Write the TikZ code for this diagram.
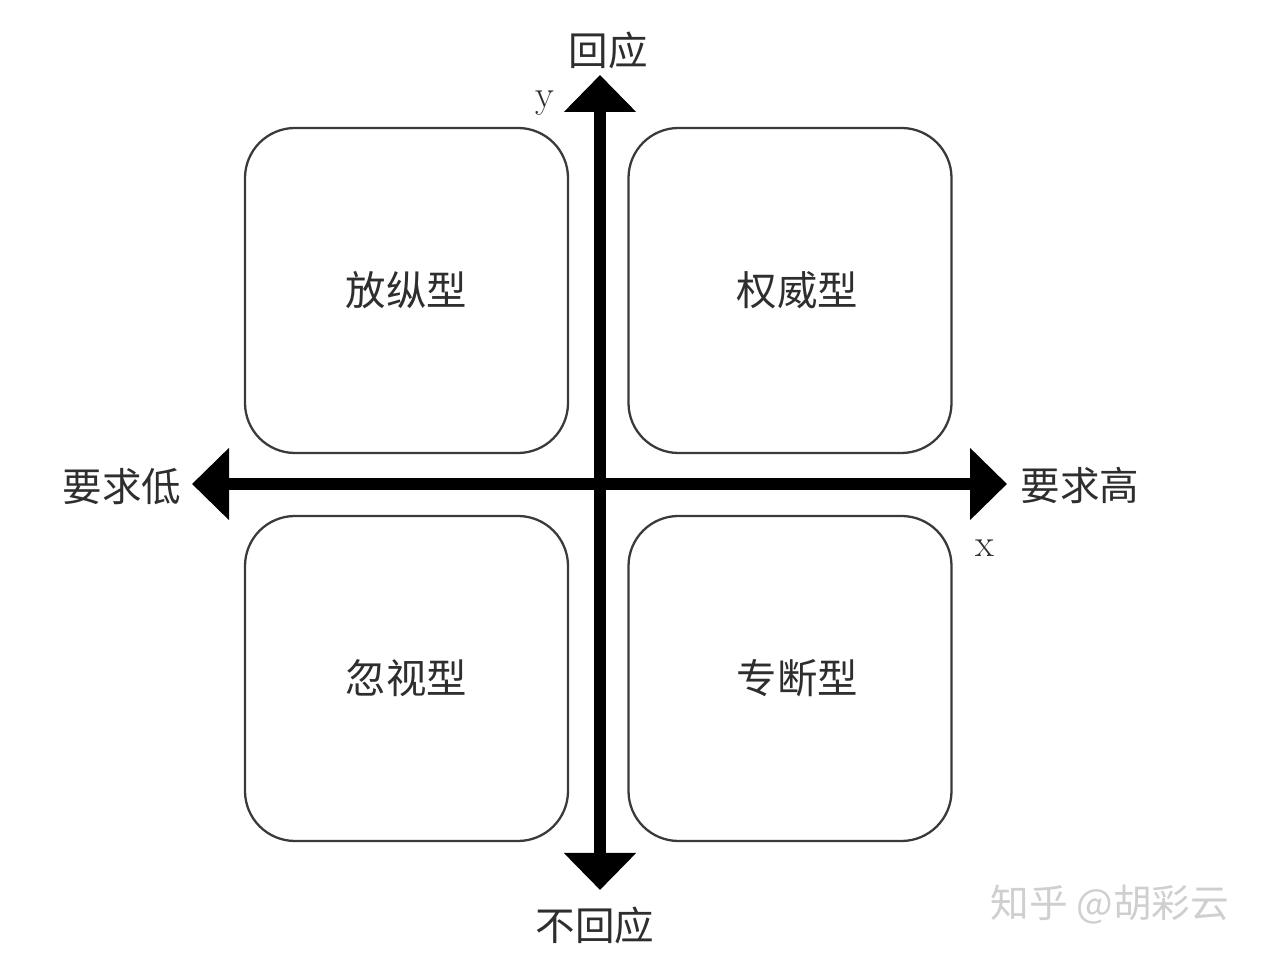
\documentclass[tikz,border=0pt]{standalone}
\usepackage{fontspec}
\newfontfamily\cjk{Noto Sans CJK SC}
\usetikzlibrary{arrows.meta,positioning}

\definecolor{txtgray}{HTML}{2E2E2E}
\definecolor{boxgray}{HTML}{3A3A3A}
\definecolor{markgray}{HTML}{CFCFCF}

\begin{document}
\begin{tikzpicture}[
    quadbox/.style={draw=boxgray, line width=1.3pt, rounded corners=1cm,
        minimum width=6.46cm, minimum height=6.5cm,
        font=\cjk\fontsize{23}{23}\selectfont, text=txtgray},
    axislabel/.style={font=\cjk\fontsize{22.5}{22.5}\selectfont, text=txtgray},
    varlabel/.style={font=\fontsize{22}{22}\selectfont, text=txtgray},
    axisline/.style={line width=0.24cm,
        {Triangle[length=0.74cm,width=1.4cm]}-{Triangle[length=0.74cm,width=1.4cm]}}
]
\useasboundingbox (0,0) rectangle (25.46,19.46);

\def\ax{12}
\def\ay{9.78}

% four quadrants
\node[quadbox] (permissive) at (8.13, 13.65) {放纵型};
\node[quadbox] (authoritative) at (15.8, 13.65) {\hspace{0.3cm}权威型};
\node[quadbox] (neglectful) at (8.13, 5.89) {忽视型};
\node[quadbox] (authoritarian) at (15.8, 5.89) {\hspace{0.3cm}专断型};

% axes
\coordinate (ytop) at (\ax, 17.96);
\coordinate (ybot) at (\ax, 1.66);
\coordinate (xleft) at (3.84, \ay);
\coordinate (xright) at (20.14, \ay);
\draw[axisline] (ybot) -- (ytop);
\draw[axisline] (xleft) -- (xright);

% axis labels
\node[axislabel] (resp) at (12.16, 18.46) {回应};
\node[axislabel] (noresp) at (11.9, 0.96) {不回应};
\node[axislabel] (lowdem) at (2.44, 9.72) {要求低};
\node[axislabel] (highdem) at (21.6, 9.76) {要求高};
\node[varlabel] (yvar) at (10.9, 17.4) {y};
\node[varlabel] (xvar) at (19.7, 8.5) {x};

% watermark
\node[font=\cjk\fontsize{22}{22}\selectfont, text=markgray] (mark) at (22.2, 1.36) {知乎 @胡彩云};

\end{tikzpicture}
\end{document}
